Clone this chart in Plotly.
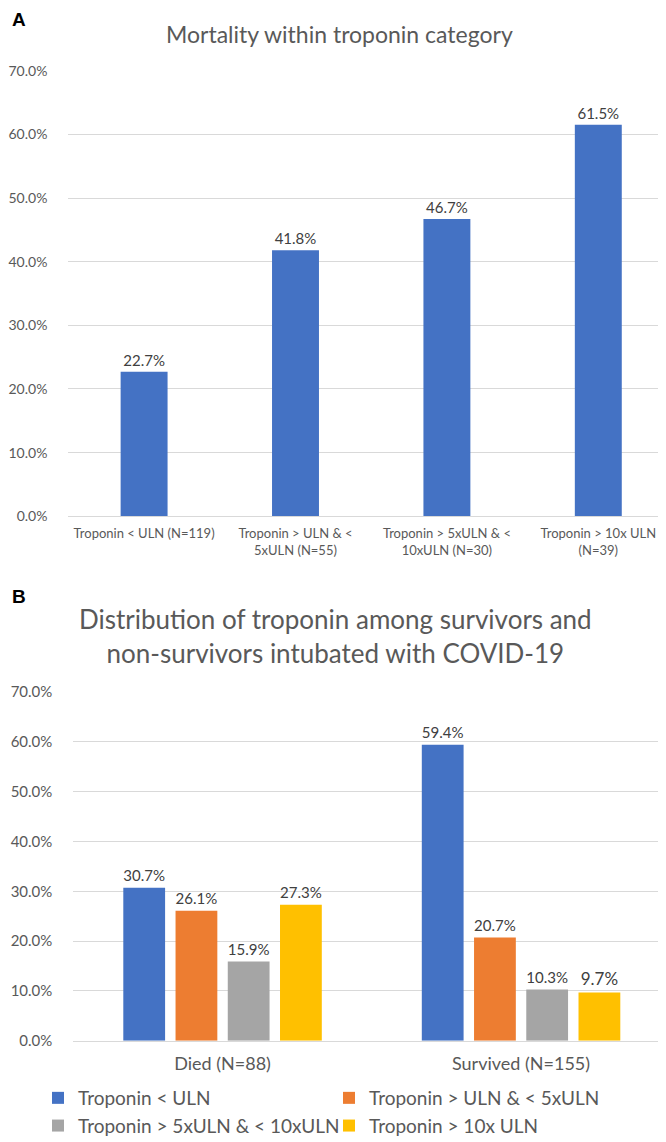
import plotly.graph_objects as go

# ---------------- data ----------------
mort_categories = [
    "Troponin < ULN (N=119)",
    "Troponin > ULN & <<br>5xULN (N=55)",
    "Troponin > 5xULN & <<br>10xULN (N=30)",
    "Troponin > 10x ULN<br>(N=39)",
]
mort_values = [22.7, 41.8, 46.7, 61.5]

dist_groups = ["Died (N=88)", "Survived (N=155)"]
dist_series = [
    "Troponin < ULN",
    "Troponin > ULN & < 5xULN",
    "Troponin > 5xULN & < 10xULN",
    "Troponin > 10x ULN",
]
dist_values = [
    [30.7, 59.4],
    [26.1, 20.7],
    [15.9, 10.3],
    [27.3, 9.7],
]
y_ticks = [0, 10, 20, 30, 40, 50, 60, 70]

title_a = "Mortality within troponin category"
title_b = "Distribution of troponin among survivors and<br>non-survivors intubated with COVID-19"

colors = ["#4472C4", "#ED7D31", "#A5A5A5", "#FFC000"]
FONT = "Lato"
TXT = "#595959"


def esc(s):
    return s.replace("&", "&amp;").replace("<br>", "\n").replace("<", "&lt;").replace(">", "&gt;").replace("\n", "<br>")


W, H = 666, 1142


def px_y(y):
    return 1 - y / H


def px_x(x):
    return x / W


fig = go.Figure()

# Panel A
fig.add_trace(go.Bar(
    x=list(range(len(mort_values))), y=mort_values,
    marker=dict(color=colors[0], line=dict(width=0)),
    width=0.31,
    texttemplate="%{y:.1f}%", textposition="outside",
    textfont=dict(family=FONT, size=15, color="#404040"),
    cliponaxis=False, showlegend=False,
    xaxis="x", yaxis="y",
))

# Panel B
for name, vals, col in zip(dist_series, dist_values, colors):
    fig.add_trace(go.Bar(
        x=list(range(len(dist_groups))), y=vals, name=esc(name),
        marker=dict(color=col, line=dict(width=0)),
        texttemplate="%{y:.1f}%", textposition="outside",
        textfont=dict(family=FONT, size=17, color="#404040"),
        cliponaxis=False,
        xaxis="x2", yaxis="y2",
    ))

common_y = dict(
    range=[0, 70], tickvals=y_ticks, ticktext=[f"{v:.1f}%" for v in y_ticks],
    showgrid=True, gridcolor="#D9D9D9", gridwidth=1.2, zeroline=False,
    showline=False, ticks="",
)

fig.update_layout(
    width=W, height=H,
    margin=dict(l=0, r=0, t=0, b=0, autoexpand=False),
    plot_bgcolor="white", paper_bgcolor="white",
    barmode="group", bargap=0.3, bargroupgap=0.2,
    font=dict(family=FONT, color=TXT),
    xaxis=dict(
        domain=[px_x(60.4), 1.0], anchor="y",
        range=[-0.5, 3.5],
        tickvals=list(range(len(mort_categories))),
        ticktext=[esc(c) for c in mort_categories],
        tickfont=dict(size=13, color=TXT), showline=True, linecolor="#D9D9D9",
        linewidth=1.2, ticks="", showgrid=False, zeroline=False,
        ticklabelstandoff=5,
    ),
    yaxis=dict(domain=[px_y(508.3), px_y(62.7)], anchor="x",
               tickfont=dict(size=14, color=TXT), ticklabelstandoff=20, **common_y),
    xaxis2=dict(
        domain=[px_x(65.3), px_x(662.3)], anchor="y2",
        range=[-0.5, 1.5],
        tickvals=list(range(len(dist_groups))),
        ticktext=[esc(g) for g in dist_groups],
        tickfont=dict(size=18, color=TXT), showline=True, linecolor="#D9D9D9",
        linewidth=1.2, ticks="", showgrid=False, zeroline=False,
        ticklabelstandoff=7,
    ),
    yaxis2=dict(domain=[px_y(1032.7), px_y(684)], anchor="x2",
                tickfont=dict(size=15, color=TXT), ticklabelstandoff=20, **common_y),
    legend=dict(
        orientation="h", x=px_x(30), xanchor="left", y=px_y(1071), yanchor="top",
        entrywidth=246, entrywidthmode="pixels",
        font=dict(size=19, color=TXT, family=FONT),
        itemwidth=30, traceorder="normal", bgcolor="rgba(0,0,0,0)",
    ),
    annotations=[
        dict(text="<b>A</b>", x=px_x(2), y=px_y(12), xref="paper", yref="paper",
             xanchor="left", yanchor="middle", showarrow=False,
             font=dict(family="Liberation Sans", size=19, color="black")),
        dict(text="<b>B</b>", x=px_x(2), y=px_y(588), xref="paper", yref="paper",
             xanchor="left", yanchor="middle", showarrow=False,
             font=dict(family="Liberation Sans", size=19, color="black")),
        dict(text=title_a, x=px_x(331), y=px_y(26), xref="paper", yref="paper",
             xanchor="center", yanchor="middle", showarrow=False,
             font=dict(family=FONT, size=23, color=TXT)),
        dict(text=title_b, x=px_x(327), y=px_y(628), xref="paper", yref="paper",
             xanchor="center", yanchor="middle", showarrow=False,
             font=dict(family=FONT, size=26, color=TXT)),
    ],
)

fig.write_html("out.html")
